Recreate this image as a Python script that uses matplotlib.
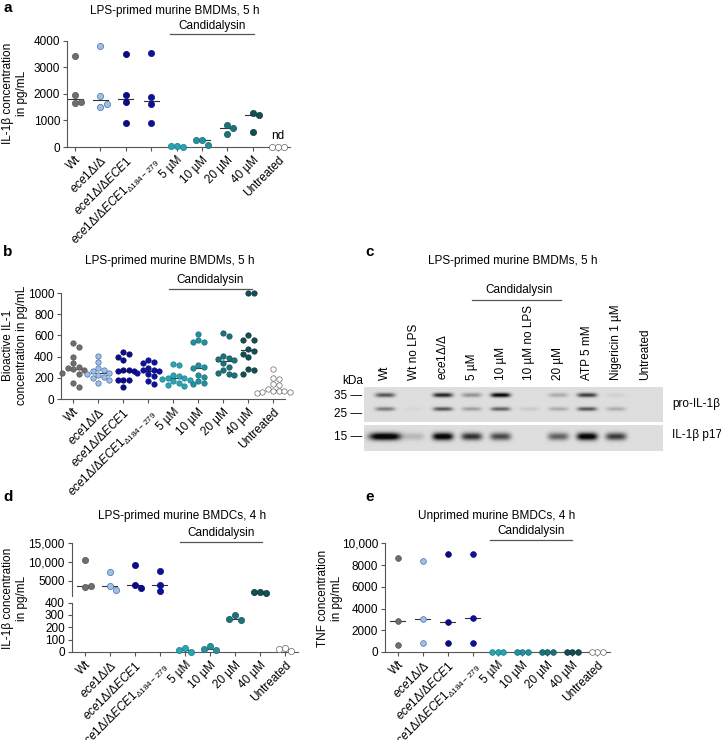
import numpy as np
import matplotlib
matplotlib.use("Agg")
import matplotlib.pyplot as plt
from matplotlib import transforms

plt.rcParams['font.family'] = ['Liberation Sans', 'DejaVu Sans']
plt.rcParams['mathtext.fontset'] = 'custom'
plt.rcParams['mathtext.rm'] = 'Liberation Sans'
plt.rcParams['mathtext.it'] = 'Liberation Sans:italic'
plt.rcParams['mathtext.default'] = 'regular'

W, H = 721, 740

# categories shared by the dot plots
cats = ["Wt", r"$\mathit{ece1}$Δ/Δ", r"$\mathit{ece1}$Δ/Δ$\mathit{ECE1}$",
        r"$\mathit{ece1}$Δ/Δ$\mathit{ECE1}_{\Delta 184-279}$",
        "5 µM", "10 µM", "20 µM", "40 µM", "Untreated"]
face = ['#6e6e6e', '#9ec0e8', '#0b0b8a', '#0d119c', '#2aa3b3', '#23909d', '#1c727b', '#134e54', 'white']
edge = ['#555555', '#4a6fa0', '#08086a', '#0a0d7a', '#1d7f8c', '#1a6f79', '#14565d', '#0c3539', '#666666']

# panel a: IL-1b, BMDMs 5 h
a_vals = [[3420, 1950, 1660, 1700],
          [3800, 1920, 1500, 1620],
          [3500, 1950, 1690, 910],
          [3520, 1870, 1620, 900],
          [50, 10, 40],
          [260, 80, 260],
          [500, 815, 715],
          [1265, 1190, 550],
          [0, 0, 0]]

# panel b: bioactive IL-1
b_vals = [[530, 495, 400, 340, 300, 290, 280, 270, 250, 240, 150, 110],
          [410, 350, 290, 275, 260, 250, 240, 230, 210, 200, 180, 155],
          [440, 420, 400, 370, 270, 270, 265, 260, 180, 180, 175, 115],
          [370, 345, 340, 290, 275, 270, 260, 250, 235, 220, 170, 145],
          [330, 325, 230, 215, 200, 200, 190, 180, 170, 150, 130, 120],
          [610, 555, 540, 535, 320, 300, 290, 230, 210, 170, 150, 140],
          [620, 595, 410, 390, 380, 370, 340, 300, 270, 250, 240, 230],
          [1000, 1000, 600, 560, 560, 470, 450, 420, 400, 280, 270, 240],
          [280, 200, 190, 140, 130, 90, 80, 78, 75, 70, 65, 60]]

# panel c: western blot band intensities per lane (0..1)
c_lanes = ["Wt", "Wt no LPS", r"$\mathit{ece1}$Δ/Δ", "5 µM", "10 µM", "10 µM no LPS",
           "20 µM", "ATP 5 mM", "Nigericin 1 µM", "Untreated"]
c_pro_top = [0.55, 0.0, 0.75, 0.3, 0.9, 0.0, 0.2, 0.65, 0.05, 0.0]
c_pro_bot = [0.4, 0.03, 0.55, 0.25, 0.5, 0.08, 0.2, 0.55, 0.2, 0.0]
c_p17 = [1.0, 0.15, 0.95, 0.7, 0.6, 0.0, 0.5, 0.95, 0.65, 0.0]

# panel d: IL-1b, BMDCs 4 h (broken axis)
d_vals = [[10600, 3300, 3700],
          [7400, 3700, 2600],
          [9200, 3900, 3100],
          [7700, 4000, 2300],
          [30, 3, 18],
          [50, 20, 22],
          [300, 255, 265],
          [2000, 1900, 2050],
          [30, 12, 25]]

# panel e: TNF, unprimed BMDCs
e_vals = [[8650, 2840, 640],
          [8380, 3030, 800],
          [9000, 2780, 800],
          [9000, 3090, 800],
          [0, 0, 0],
          [0, 0, 0],
          [0, 0, 0],
          [0, 0, 0],
          [0, 0, 0]]


def fpos(l, t, r, b):
    return [l / W, 1 - b / H, (r - l) / W, (b - t) / H]


def ftext(x, y, s, **kw):
    fig.text(x / W, 1 - y / H, s, **kw)


def swarm(vals, dx, dy):
    xs = []
    placed = []
    for v in vals:
        k = 0
        while True:
            off = ((k + 1) // 2) * dx * (1 if k % 2 else -1) if k else 0.0
            if all(abs(off - px_) > dx * 0.95 or abs(v - py_) > dy for px_, py_ in placed):
                break
            k += 1
        placed.append((off, v))
        xs.append(off)
    return np.array(xs)


def style(ax, bottom=True):
    for s in ['top', 'right']:
        ax.spines[s].set_visible(False)
    for s in ['left', 'bottom']:
        ax.spines[s].set_color('#555555')
        ax.spines[s].set_linewidth(0.8)
    ax.tick_params(axis='both', direction='out', length=3, width=0.8, color='#555555', labelsize=8.5, pad=2)
    if bottom:
        ax.set_xticks(range(len(cats)))
        ax.set_xticklabels(cats, rotation=45, ha='right', rotation_mode='anchor', fontsize=8.5)
    else:
        ax.spines['bottom'].set_visible(False)
        ax.set_xticks([])


def dots(ax, groups, idx, dx, dy, size):
    for i in idx:
        vals = groups[i]
        xs = i + swarm(vals, dx, dy)
        ax.scatter(xs, vals, s=size, c=face[i], edgecolors=edge[i], linewidths=0.5, zorder=3, clip_on=False)
        med = np.median(vals)
        ax.plot([i - 0.3, i + 0.3], [med, med], color='#333333', lw=0.8, zorder=2, clip_on=False)


def candida(ax, x1, x2, y, ty):
    tr = transforms.blended_transform_factory(ax.transData, ax.transAxes)
    ax.plot([x1, x2], [y, y], color='#555555', lw=0.9, transform=tr, clip_on=False)
    ax.text((x1 + x2) / 2, ty, "Candidalysin", transform=tr, ha='center', va='bottom', fontsize=8.5)


fig = plt.figure(figsize=(W / 100, H / 100), dpi=100)

# ---- panel a
ax = fig.add_axes(fpos(67, 40.7, 290, 147))
style(ax)
ax.set_xlim(-0.32, 8.47)
ax.set_ylim(0, 4000)
ax.set_yticks([0, 1000, 2000, 3000, 4000])
dots(ax, a_vals, range(9), 0.24, 225, 20)
ax.text(8, 180, "nd", ha='center', va='bottom', fontsize=8.5)
candida(ax, 3.75, 7.05, 1.063, 1.085)
ftext(175, 11, "LPS-primed murine BMDMs, 5 h", ha='center', va='center', fontsize=8.5)
ftext(15, 93, "IL-1β concentration\nin pg/mL", rotation=90, ha='center', va='center', fontsize=8.5, multialignment='center')
ftext(3, 8, "a", fontsize=11, fontweight='bold', va='center')

# ---- panel b
ax = fig.add_axes(fpos(61, 293, 285, 399))
style(ax)
ax.set_xlim(-0.48, 8.48)
ax.set_ylim(0, 1000)
ax.set_yticks([0, 200, 400, 600, 800, 1000])
dots(ax, b_vals, range(9), 0.22, 50, 15)
candida(ax, 3.85, 7.15, 1.04, 1.065)
ftext(170, 261, "LPS-primed murine BMDMs, 5 h", ha='center', va='center', fontsize=8.5)
ftext(15, 345, "Bioactive IL-1\nconcentration in pg/mL", rotation=90, ha='center', va='center', fontsize=8.5, multialignment='center')
ftext(3, 252, "b", fontsize=11, fontweight='bold', va='center')

# ---- panel c (western blot)
x0, x1 = -0.727, 9.62


def blot(ax, hpx, bands):
    xg = np.linspace(x0, x1, 600)
    yg = np.linspace(0, hpx, 120)
    X, Y = np.meshgrid(xg, yg)
    img = np.full(X.shape, 0.13)
    for yc, hh, vals, widths in bands:
        for i, v in enumerate(vals):
            img += v * np.exp(-((X - i) / widths[i]) ** 4) * np.exp(-((Y - yc) / hh) ** 2)
    img = np.clip(img, 0, 0.97)
    ax.imshow(img, cmap='gray_r', vmin=0, vmax=1, extent=(x0, x1, hpx, 0), aspect='auto', interpolation='bilinear')
    ax.set_xlim(x0, x1)
    ax.set_ylim(hpx, 0)
    ax.set_xticks([])
    ax.set_yticks([])
    for s in ax.spines.values():
        s.set_visible(False)


axu = fig.add_axes(fpos(364, 387, 663, 422))
w_std = [0.34] * 10
blot(axu, 35, [(8, 2.2, c_pro_top, w_std), (22, 2.0, c_pro_bot, w_std)])
axl = fig.add_axes(fpos(364, 425, 663, 451))
w_p17 = [0.55] + [0.36] * 9
blot(axl, 26, [(11.5, 3.8, c_p17, w_p17)])

tr = transforms.blended_transform_factory(axu.transData, axu.transAxes)
for i, lab in enumerate(c_lanes):
    axu.text(i, 1.2, lab, rotation=90, ha='center', va='bottom', fontsize=8.5, transform=tr)
axu.plot([3.0, 6.09], [3.49, 3.49], color='#555555', lw=0.9, transform=tr, clip_on=False)
axu.text(4.64, 3.6, "Candidalysin", ha='center', va='bottom', fontsize=8.5, transform=tr)
ftext(513, 261, "LPS-primed murine BMDMs, 5 h", ha='center', va='center', fontsize=8.5)
ftext(353, 381, "kDa", ha='center', va='center', fontsize=8.5)
ftext(362, 396, "35 —", ha='right', va='center', fontsize=8.5)
ftext(362, 414, "25 —", ha='right', va='center', fontsize=8.5)
ftext(362, 437, "15 —", ha='right', va='center', fontsize=8.5)
ftext(672, 404, "pro-IL-1β", ha='left', va='center', fontsize=8.5)
ftext(672, 435, "IL-1β p17", ha='left', va='center', fontsize=8.5)
ftext(365, 252, "c", fontsize=11, fontweight='bold', va='center')

# ---- panel d (broken y axis)
axt = fig.add_axes(fpos(71.7, 543, 298, 596))
style(axt, bottom=False)
axt.set_xlim(-0.53, 8.52)
axt.set_ylim(1000, 15000)
axt.set_yticks([5000, 10000, 15000])
axt.set_yticklabels(["5000", "10,000", "15,000"])
dots(axt, d_vals, [0, 1, 2, 3, 7], 0.24, 1600, 20)
candida(axt, 3.8, 7.1, 1.02, 1.08)

axb = fig.add_axes(fpos(71.7, 602.5, 298, 652))
style(axb)
axb.set_xlim(-0.53, 8.52)
axb.set_ylim(0, 400)
axb.set_yticks([0, 100, 200, 300, 400])
dots(axb, d_vals, [4, 5, 6, 8], 0.24, 45, 20)
ftext(182, 516, "LPS-primed murine BMDCs, 4 h", ha='center', va='center', fontsize=8.5)
ftext(15, 598, "IL-1β concentration\nin pg/mL", rotation=90, ha='center', va='center', fontsize=8.5, multialignment='center')
ftext(3, 497, "d", fontsize=11, fontweight='bold', va='center')

# ---- panel e
ax = fig.add_axes(fpos(385, 543.3, 610, 652))
style(ax)
ax.set_xlim(-0.52, 8.52)
ax.set_ylim(0, 10000)
ax.set_yticks([0, 2000, 4000, 6000, 8000, 10000])
ax.set_yticklabels(["0", "2000", "4000", "6000", "8000", "10,000"])
dots(ax, e_vals, range(9), 0.22, 500, 17)
candida(ax, 3.7, 7.0, 1.03, 1.06)
ftext(497, 516, "Unprimed murine BMDCs, 4 h", ha='center', va='center', fontsize=8.5)
ftext(330, 598, "TNF concentration\nin pg/mL", rotation=90, ha='center', va='center', fontsize=8.5, multialignment='center')
ftext(365, 497, "e", fontsize=11, fontweight='bold', va='center')

fig.savefig("out.png", dpi=100)
